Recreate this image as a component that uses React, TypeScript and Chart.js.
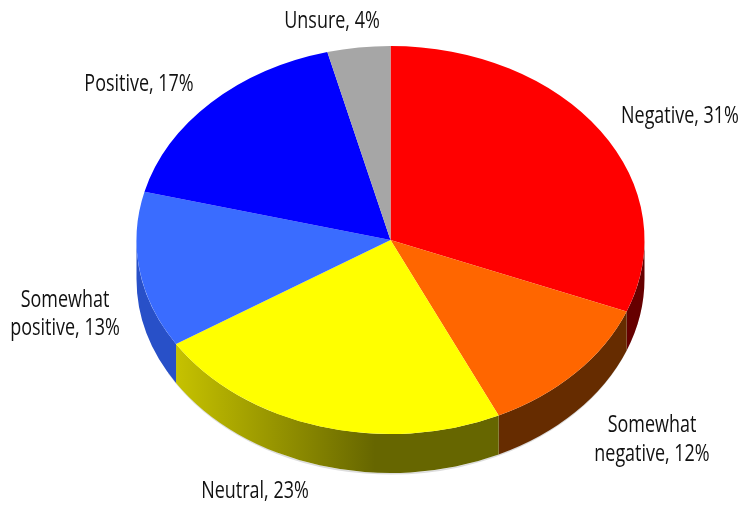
import React, { useEffect, useRef } from "react";
import { Chart, registerables } from "chart.js";

Chart.register(...registerables);

const categories = ["Negative", "Somewhat negative", "Neutral", "Somewhat positive", "Positive", "Unsure"];
const shares = [31, 12, 23, 13, 17, 4];
const topColors = ["#ff0000", "#ff6600", "#ffff00", "#3a6cff", "#0000ff", "#a6a6a6"];
const sideColors = ["#660000", "#662c00", "#666600", "#2850c8", "#000066", "#444444"];

// Text placement: [text, centre x, centre y] for each line of each label.
const labelLines = [
  [["Negative, 31%", 680, 116]],
  [["Somewhat", 652, 425], ["negative, 12%", 652, 454]],
  [["Neutral, 23%", 255, 491]],
  [["Somewhat", 65, 300], ["positive, 13%", 65, 328]],
  [["Positive, 17%", 139, 84]],
  [["Unsure, 4%", 332, 21]],
];

const CX = 390.5;
const CY = 240;
const RX = 254;
const RY = 194;
const DEPTH = 39;
const TEXT_SQUEEZE = 0.78;

const pie3d = {
  id: "pie3d",
  beforeDatasetsDraw(chart: any) {
    const ctx = chart.ctx;
    const arcs = chart.getDatasetMeta(0).data;
    ctx.save();
    // faint rim under the side wall
    ctx.beginPath();
    ctx.ellipse(CX, CY + DEPTH + 0.8, RX - 1, RY, 0, 0.1, Math.PI - 0.5);
    ctx.strokeStyle = "#dddddd";
    ctx.lineWidth = 1.5;
    ctx.stroke();
    arcs.forEach((arc: any, i: number) => {
      const a0 = Math.max(arc.startAngle, 0);
      const a1 = Math.min(arc.endAngle, Math.PI);
      if (a1 <= a0) return;
      ctx.beginPath();
      ctx.ellipse(CX, CY, RX, RY, 0, a0, a1);
      ctx.ellipse(CX, CY + DEPTH, RX, RY, 0, a1, a0, true);
      ctx.closePath();
      let fill: any = sideColors[i];
      if (i === 2) {
        const g = ctx.createLinearGradient(176, 0, 375, 0);
        g.addColorStop(0, "#c6c200");
        g.addColorStop(1, "#666600");
        fill = g;
      }
      ctx.fillStyle = fill;
      ctx.fill();
    });
    ctx.restore();

    const first = arcs[0];
    ctx.save();
    ctx.translate(CX, CY);
    ctx.scale(1, RY / RX);
    ctx.translate(-first.x, -first.y);
  },
  afterDatasetsDraw(chart: any) {
    chart.ctx.restore();
    const ctx = chart.ctx;
    ctx.save();
    ctx.font = "23px 'Open Sans'";
    ctx.fillStyle = "#111111";
    ctx.textAlign = "center";
    ctx.textBaseline = "middle";
    labelLines.forEach((lines) =>
      lines.forEach(([text, x, y]: any) => {
        ctx.save();
        ctx.translate(x, y);
        ctx.scale(TEXT_SQUEEZE, 1);
        ctx.fillText(text, 0, 0);
        ctx.restore();
      })
    );
    ctx.restore();
  },
};

export default function App() {
  const ref = useRef<HTMLCanvasElement | null>(null);
  useEffect(() => {
    document.body.style.margin = "0";
    document.body.style.background = "#ffffff";
    const chart = new Chart(ref.current as HTMLCanvasElement, {
      type: "pie",
      data: {
        labels: categories,
        datasets: [
          {
            data: shares,
            backgroundColor: topColors,
            borderWidth: 0,
            clip: false,
          } as any,
        ],
      },
      options: {
        responsive: false,
        animation: false,
        radius: RX,
        layout: { padding: 0 },
        plugins: { legend: { display: false }, tooltip: { enabled: false } },
      } as any,
      plugins: [pie3d],
    });
    return () => chart.destroy();
  }, []);
  return <canvas ref={ref} width={743} height={506} style={{ display: "block" }} />;
}
